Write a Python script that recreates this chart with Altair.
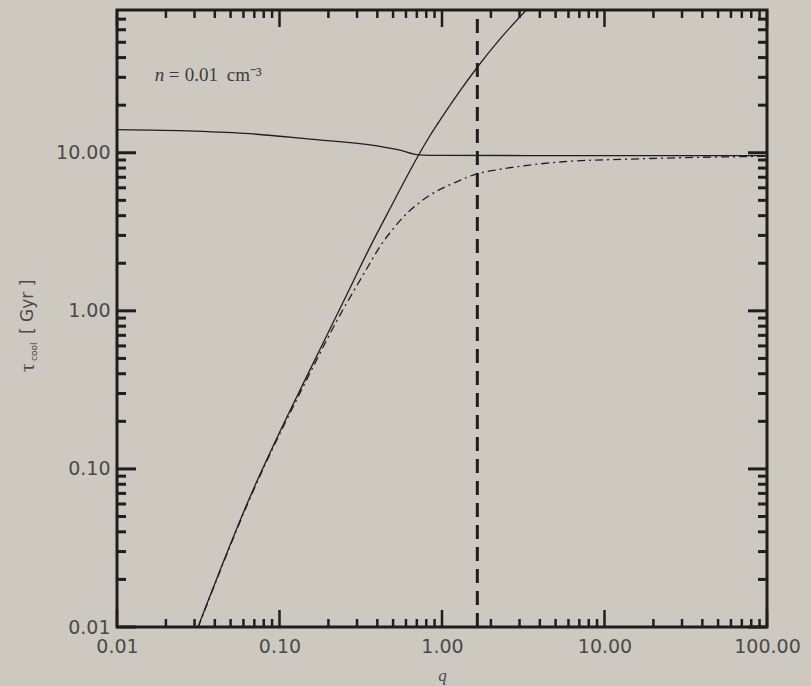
import altair as alt
import pandas as pd

# Cooling time against q for n = 0.01 cm^-3
q_rise = [0.0315, 0.0687, 0.100, 0.1436, 0.250, 0.361, 0.500, 0.600, 0.711, 0.850, 1.00, 1.30, 1.64, 2.27, 3.34]
tau_rise = [0.0100, 0.0736, 0.170, 0.366, 1.17, 2.54, 4.83, 6.9, 9.5, 13.0, 16.8, 24.9, 34.5, 52.3, 81.0]

q_upper = [0.01, 0.03, 0.0658, 0.154, 0.398, 0.55, 0.72, 1.0, 10.0, 100.0]
tau_upper = [14.0, 13.7, 13.2, 12.2, 11.07, 10.4, 9.7, 9.62, 9.6, 9.6]

q_comb = [0.0315, 0.0687, 0.1436, 0.250, 0.300, 0.350, 0.415, 0.500, 0.575, 0.700, 0.843, 1.00, 1.23, 1.64, 2.18, 5.56, 14.4, 29.2, 100.0]
tau_comb = [0.0099, 0.072, 0.35, 1.05, 1.45, 1.9, 2.55, 3.3, 3.9, 4.7, 5.4, 5.95, 6.55, 7.36, 7.8, 8.77, 9.12, 9.3, 9.5]

q_mark = [1.65]
tau_span = [0.01, 80.0]

x_major = [0.01, 0.1, 1.0, 10.0, 100.0]
y_major = [0.01, 0.1, 1.0, 10.0]
minor_mult = [2, 3, 4, 5, 6, 7, 8, 9]
x_minor = [m * d for d in [0.01, 0.1, 1.0, 10.0] for m in minor_mult]
y_minor = [m * d for d in [0.01, 0.1, 1.0, 10.0] for m in minor_mult if m * d < 80]

W, H = 650, 617
BG = "#cdc9c0"
INK = "#1e1e1e"
LABEL = "#4a4a4a"

xs = alt.Scale(type="log", domain=[0.01, 100.0], nice=False)
ys = alt.Scale(type="log", domain=[0.01, 80.0], nice=False)

x_axis = alt.Axis(values=x_major, format=".2f", ticks=False, domain=False, grid=False,
                  labelFlush=False, labelOverlap=False, labelPadding=10,
                  labelFont="DejaVu Sans", labelFontSize=19, labelColor=LABEL,
                  title="q", titleFont="Liberation Serif", titleFontStyle="italic",
                  titleFontSize=17, titleFontWeight="normal", titleColor=LABEL, titlePadding=11)
y_axis = alt.Axis(values=y_major, format=".2f", ticks=False, domain=False, grid=False,
                  labelOverlap=False, labelPadding=7,
                  labelFont="DejaVu Sans", labelFontSize=19, labelColor=LABEL, title=None)

rise = alt.Chart(pd.DataFrame({"q": q_rise, "tau": tau_rise})).mark_line(
    color=INK, strokeWidth=1.3, interpolate="monotone", clip=True
).encode(x=alt.X("q:Q", scale=xs, axis=x_axis), y=alt.Y("tau:Q", scale=ys, axis=y_axis))

upper = alt.Chart(pd.DataFrame({"q": q_upper, "tau": tau_upper})).mark_line(
    color=INK, strokeWidth=1.3, interpolate="monotone", clip=True
).encode(x=alt.X("q:Q", scale=xs), y=alt.Y("tau:Q", scale=ys))

comb = alt.Chart(pd.DataFrame({"q": q_comb, "tau": tau_comb})).mark_line(
    color=INK, strokeWidth=1.3, strokeDash=[8, 4, 2, 4], interpolate="monotone", clip=True
).encode(x=alt.X("q:Q", scale=xs), y=alt.Y("tau:Q", scale=ys))

vline = alt.Chart(pd.DataFrame({"q": q_mark, "lo": [tau_span[0]], "hi": [tau_span[1]]})).mark_rule(
    color=INK, strokeWidth=3, strokeDash=[14, 8]
).encode(x=alt.X("q:Q", scale=xs), y=alt.Y("lo:Q", scale=ys), y2="hi:Q")


def xticks(vals, length):
    df = pd.DataFrame({"q": vals})
    base = alt.Chart(df).mark_rule(color=INK, strokeWidth=2.5)
    bottom = base.encode(x=alt.X("q:Q", scale=xs), y=alt.value(H), y2=alt.value(H - length))
    top = base.encode(x=alt.X("q:Q", scale=xs), y=alt.value(0), y2=alt.value(length))
    return [bottom, top]


def yticks(vals, length):
    df = pd.DataFrame({"tau": vals})
    base = alt.Chart(df).mark_rule(color=INK, strokeWidth=3)
    left = base.encode(y=alt.Y("tau:Q", scale=ys), x=alt.value(0), x2=alt.value(length))
    right = base.encode(y=alt.Y("tau:Q", scale=ys), x=alt.value(W), x2=alt.value(W - length))
    return [left, right]


tick_layers = (xticks(x_major, 17) + xticks(x_minor, 8)
               + yticks(y_major, 19) + yticks(y_minor, 9))

# density note inside the frame, set piece by piece
note_q, note_tau = 0.0171, 31.0
note_parts = [("n", "italic", 0), ("=", "normal", 14), ("0.01", "normal", 30), ("cm⁻³", "normal", 72)]
note_layers = [
    alt.Chart(pd.DataFrame({"q": [note_q], "tau": [note_tau], "t": [txt]})).mark_text(
        align="left", baseline="middle", font="Liberation Serif", fontSize=19,
        fontStyle=style, color="#3c3c3c", dx=off
    ).encode(x=alt.X("q:Q", scale=xs), y=alt.Y("tau:Q", scale=ys), text="t:N")
    for txt, style, off in note_parts
]

# rotated y title: tau with subscript "cool", then the unit
title_tau = alt.Chart(pd.DataFrame({"t": ["τ"]})).mark_text(
    align="left", baseline="middle", angle=270, font="Liberation Serif", fontSize=21, color=LABEL
).encode(x=alt.value(-89), y=alt.value(362), text="t:N")
title_sub = alt.Chart(pd.DataFrame({"t": ["cool"]})).mark_text(
    align="left", baseline="middle", angle=270, font="DejaVu Sans", fontSize=9, color=LABEL
).encode(x=alt.value(-83), y=alt.value(351), text="t:N")
title_unit = alt.Chart(pd.DataFrame({"t": ["[ Gyr ]"]})).mark_text(
    align="left", baseline="middle", angle=270, font="DejaVu Sans", fontSize=17, color=LABEL
).encode(x=alt.value(-89), y=alt.value(324), text="t:N")

chart = alt.layer(
    rise, upper, comb, vline, *tick_layers, *note_layers, title_tau, title_sub, title_unit
).properties(
    width=W, height=H, background=BG, autosize="none",
    padding={"left": 117, "top": 10, "right": 44, "bottom": 59}
).configure_view(stroke=INK, strokeWidth=3, fill=BG)

chart.save("out.html", embed_options={"renderer": "svg", "actions": False})
